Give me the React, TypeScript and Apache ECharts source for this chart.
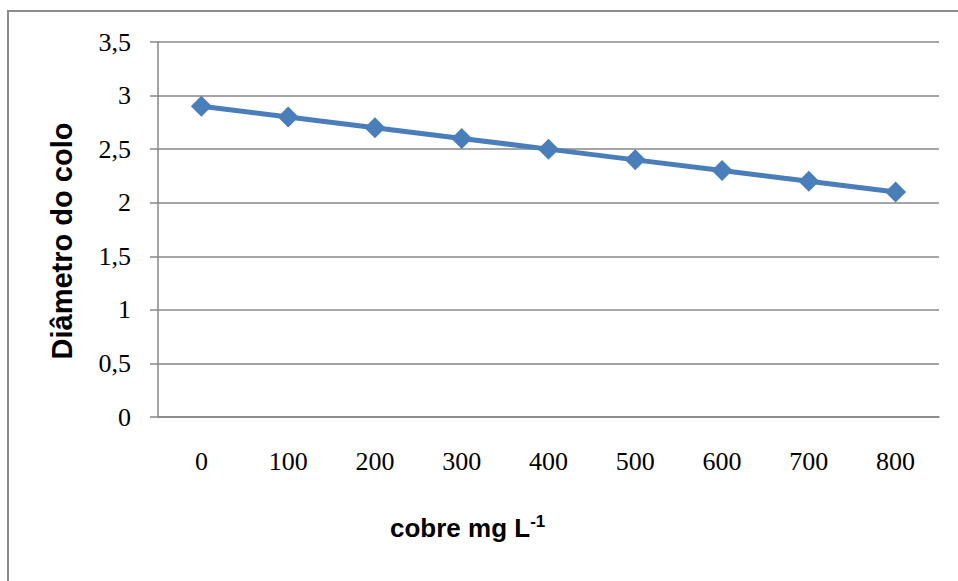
import React, { useEffect, useRef } from "react";
import * as echarts from "echarts";

// Copper concentration (mg L-1) and stem-collar diameter
const doses = ["0", "100", "200", "300", "400", "500", "600", "700", "800"];
const diametro = [2.9, 2.8, 2.7, 2.6, 2.5, 2.4, 2.3, 2.2, 2.1];
const yTicks = { min: 0, max: 3.5, interval: 0.5 };
const xTitle = "cobre mg L";
const xTitleSup = "-1";
const yTitle = "Diâmetro do colo";

export default function App() {
  const ref = useRef<HTMLDivElement>(null);

  useEffect(() => {
    if (!ref.current) return;
    const chart = echarts.init(ref.current, null, { renderer: "svg" });
    const gridColor = "#878787";
    chart.setOption({
      animation: false,
      backgroundColor: "#ffffff",
      graphic: [
        {
          type: "rect",
          shape: { x: 8, y: 11, width: 980, height: 620 },
          style: { fill: "none", stroke: "#8c8c8c", lineWidth: 2 },
          silent: true,
        },
        {
          type: "text",
          x: 62,
          y: 241,
          rotation: Math.PI / 2,
          style: {
            text: yTitle,
            fontFamily: "Liberation Sans",
            fontWeight: "bold",
            fontSize: 29,
            fill: "#000",
            align: "center",
            verticalAlign: "middle",
          },
          silent: true,
        },
        {
          type: "text",
          x: 390,
          y: 528,
          style: {
            text: `{a|${xTitle}}{b|${xTitleSup}}`,
            align: "left",
            verticalAlign: "middle",
            rich: {
              a: { fontFamily: "Liberation Sans", fontWeight: "bold", fontSize: 26, fill: "#000" },
              b: { fontFamily: "Liberation Sans", fontWeight: "bold", fontSize: 17, fill: "#000", verticalAlign: "top", padding: [0, 0, 14, 0] },
            },
          },
          silent: true,
        },
      ],
      grid: { left: 158, top: 42, right: 19, bottom: 164, containLabel: false },
      xAxis: {
        type: "category",
        data: doses,
        boundaryGap: true,
        axisLine: { lineStyle: { color: gridColor, width: 1.5 } },
        axisTick: { show: false },
        axisLabel: {
          color: "#000",
          fontFamily: "Liberation Serif",
          fontSize: 26,
          margin: 31,
        },
      },
      yAxis: {
        type: "value",
        min: yTicks.min,
        max: yTicks.max,
        interval: yTicks.interval,
        axisLine: { show: true, lineStyle: { color: gridColor, width: 1.5 } },
        axisTick: { show: true, length: 8, lineStyle: { color: gridColor, width: 1.5 } },
        splitLine: { lineStyle: { color: gridColor, width: 1.5 } },
        axisLabel: {
          color: "#000",
          fontFamily: "Liberation Serif",
          fontSize: 26,
          margin: 27,
          formatter: (v: number) => String(v).replace(".", ","),
        },
      },
      series: [
        {
          type: "line",
          data: diametro,
          symbol: "diamond",
          symbolSize: 21,
          lineStyle: { color: "#4a7ebb", width: 5 },
          itemStyle: { color: "#4a7ebb" },
        },
      ],
    });
    return () => chart.dispose();
  }, []);

  return (
    <div
      ref={ref}
      style={{ position: "absolute", left: 0, top: 0, width: 958, height: 581 }}
    />
  );
}
